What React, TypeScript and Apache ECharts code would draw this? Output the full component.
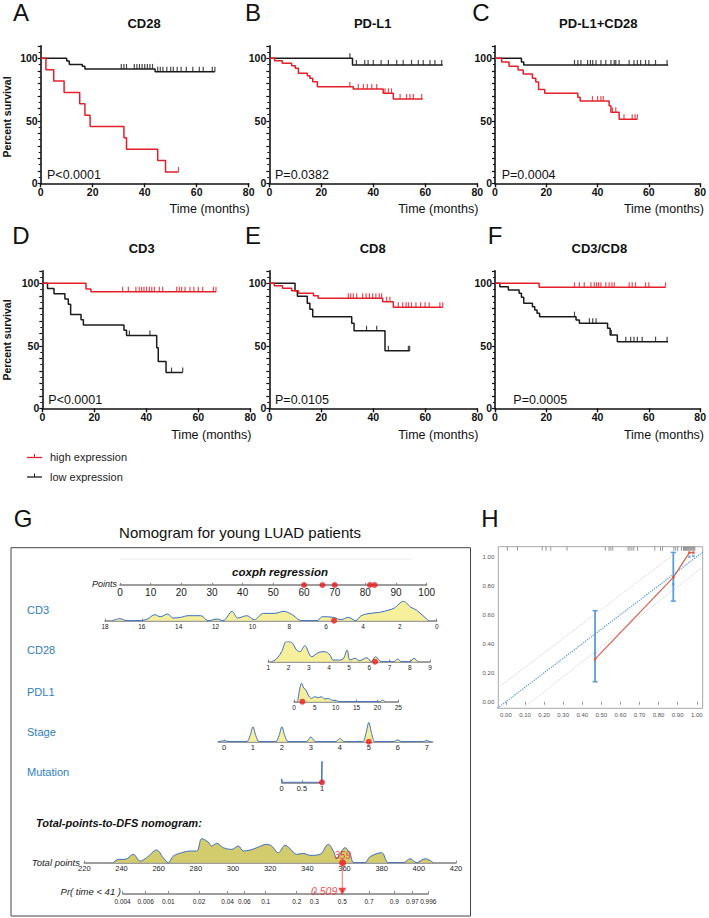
import React, { useEffect, useRef } from 'react';
import * as echarts from 'echarts';

const FONT = '"Liberation Sans", Arial, Helvetica, sans-serif';
const RED = '#e3202a';
const BLACK = '#1b1b1b';
const NOMO_BLUE = '#2f7ec1';
const DENS_LINE = '#3c6fc4';

// ---------------- Kaplan-Meier data: [time (months), percent survival after the step] ----------------
const survivalLabels = [0, 50, 100];

const cd28High = [[0, 100], [2, 90.9], [5, 81.8], [9, 72.7], [15, 63.6], [17, 54.5], [19, 45.5], [32, 36.4], [33, 27.3], [45, 18.2], [48, 9.1], [53, 9.1]];
const cd28HighCensor = [53];
const cd28Low = [[0, 100], [10, 97.9], [11, 95], [16, 93.6], [17, 91.5], [44, 89.3], [67, 89.3]];
const cd28LowCensor = [31, 32, 33, 36, 37, 38, 39, 40, 41, 42, 43, 45, 46, 47, 48.5, 50, 51, 52.5, 54, 56, 58.5, 61, 62.5, 66, 67];

const pdl1High = [[0, 100], [2, 98.1], [5, 96], [8.6, 94], [10, 92], [11.2, 88], [14.6, 86], [15.6, 84], [16.7, 81.3], [18.5, 77.3], [32.3, 75.5], [43.8, 72], [47.7, 67.5], [59, 67.5]];
const pdl1HighCensor = [31, 34.2, 36.2, 37.7, 39.4, 41.3, 44.5, 45.8, 47, 50.3, 52.8, 54.1, 55.4, 58.6];
const pdl1Low = [[0, 100], [32, 94.7], [66.7, 94.7]];
const pdl1LowCensor = [31, 33.5, 36.7, 38, 40, 43, 45.8, 49, 51.5, 54.7, 57.3, 59.2, 61.8, 63.7, 66.3];

const comboHigh = [[0, 100], [2.6, 97], [5.5, 93.6], [9, 90.7], [11, 87.5], [14.6, 84], [15.9, 81], [17, 75], [19.4, 72], [32.3, 68.8], [33.2, 65.9], [44.5, 62.1], [45.2, 56.8], [48.4, 51.2], [55.5, 51.2]];
const comboHighCensor = [38, 40, 41.3, 42.2, 45.8, 47.1, 50.3, 53.5, 54.6, 55.5];
const comboLow = [[0, 100], [10.3, 97], [11.2, 94.7], [67.5, 94.7]];
const comboLowCensor = [31, 32.3, 33.5, 36.1, 37.2, 38.1, 39.4, 41.3, 43.2, 45.2, 46.5, 47.1, 48.4, 52.3, 54.2, 55.5, 56.8, 58.7, 60, 62.6, 67.1];

const cd3High = [[0, 100], [16.8, 95.5], [18.7, 93.3], [66.8, 93.3]];
const cd3HighCensor = [30.9, 33.1, 36, 37.3, 38.2, 39.1, 40.1, 41.2, 42.1, 43.1, 45, 46.3, 51.7, 52.7, 53.6, 54.9, 56.8, 58.3, 60, 61.7, 65.8, 66.8];
const cd3Low = [[0, 100], [2, 95.8], [4.5, 91.7], [8.7, 87.5], [10, 83.3], [10.9, 75], [14.9, 70.8], [15.8, 66.7], [31.4, 62.5], [32.4, 58.3], [44, 48.5], [44.6, 37.5], [47.6, 28.6], [54, 28.6]];
const cd3LowCensor = [33.5, 41.4, 49.7, 54];

const cd8High = [[0, 100], [1.9, 98], [5.1, 96], [8.6, 94], [11.2, 92], [17, 90], [18.8, 88], [43.6, 85.3], [47.7, 80.8], [66.7, 80.8]];
const cd8HighCensor = [30.4, 31.3, 32.3, 33.6, 35.9, 37.2, 38.5, 39.7, 41, 42.3, 43.2, 45.1, 46.4, 49.6, 51.3, 52.6, 53.5, 54.7, 56.4, 58.2, 59.9, 61.5, 65.6, 66.7];
const cd8Low = [[0, 100], [9.9, 94.1], [10.8, 89.6], [14.6, 84], [15.6, 79.2], [16.7, 73.3], [31.7, 68], [32.6, 62], [44.5, 46.1], [54, 46.1]];
const cd8LowCensor = [37.4, 41.3, 45.8, 53.5, 54];

const ratioHigh = [[0, 100], [17.2, 96.8], [66.5, 96.8]];
const ratioHighCensor = [31, 32.9, 34.8, 37.4, 38.7, 39.6, 40.4, 41.3, 43.2, 44.5, 45.6, 46.5, 52.3, 53.5, 54.8, 58.7, 60, 66.5];
const ratioLow = [[0, 100], [1.9, 97.3], [5.2, 94.7], [9.4, 92], [10.3, 88.8], [11.2, 84], [14.6, 81.3], [15.5, 78.7], [16.4, 76], [17.4, 73.3], [31.6, 70.7], [32.9, 68], [43.9, 64], [44.9, 58.7], [47.7, 53.3], [67.5, 53.3]];
const ratioLowCensor = [31, 36.8, 38.1, 39.4, 45.4, 51, 52.9, 54.2, 55.5, 57.4, 62.6, 67.1];

const kmPanels = [
  { letter: 'A', title: 'CD28', p: 'P<0.0001', high: cd28High, highCens: cd28HighCensor, low: cd28Low, lowCens: cd28LowCensor },
  { letter: 'B', title: 'PD-L1', p: 'P=0.0382', high: pdl1High, highCens: pdl1HighCensor, low: pdl1Low, lowCens: pdl1LowCensor },
  { letter: 'C', title: 'PD-L1+CD28', p: 'P=0.0004', high: comboHigh, highCens: comboHighCensor, low: comboLow, lowCens: comboLowCensor },
  { letter: 'D', title: 'CD3', p: 'P<0.0001', high: cd3High, highCens: cd3HighCensor, low: cd3Low, lowCens: cd3LowCensor },
  { letter: 'E', title: 'CD8', p: 'P=0.0105', high: cd8High, highCens: cd8HighCensor, low: cd8Low, lowCens: cd8LowCensor },
  { letter: 'F', title: 'CD3/CD8', p: 'P=0.0005', high: ratioHigh, highCens: ratioHighCensor, low: ratioLow, lowCens: ratioLowCensor },
];

// ---------------- Nomogram data ----------------
const pointsDots = [60, 66, 70, 81.5, 83];
const cd3Density = [[17.6, 0], [17.2, 6], [16.8, 0], [16.1, 0], [15.7, 5], [15.3, 18], [15.0, 12], [14.6, 20], [14.3, 8], [13.9, 10], [13.5, 15], [12.8, 15], [12.4, 0], [11.9, 5], [11.6, 0], [11.1, 28], [10.8, 8], [10.3, 15], [9.9, 3], [9.4, 22], [8.8, 22], [8.3, 28], [7.9, 20], [7.3, 0], [6.5, 0], [6.2, 12], [5.6, 10], [5.2, 3], [4.8, 10], [4.4, 0], [4.1, 15], [3.6, 22], [3.1, 25], [2.6, 32], [2.3, 38], [1.8, 58], [1.4, 40], [1.1, 32], [0.5, 3], [0.4, 0]];
const cd3Point = 5.57;
const cd28Density = [[1.16, 0], [1.4, 8], [1.66, 30], [1.9, 60], [2.15, 58], [2.4, 35], [2.57, 30], [2.8, 48], [3.15, 15], [3.5, 28], [3.8, 30], [4.05, 20], [4.2, 5], [4.47, 5], [4.7, 8], [4.9, 35], [5.04, 5], [5.3, 10], [5.5, 3], [5.87, 12], [6.1, 0], [6.3, 15], [6.6, 0], [7.2, 0], [7.4, 8], [7.6, 0], [8.0, 0], [8.2, 10], [8.4, 0]];
const cd28Point = 6.28;
const pdl1Density = [[0.9, 0], [1.4, 40], [1.8, 55], [2.4, 40], [2.9, 35], [3.4, 20], [4.2, 10], [5, 15], [5.8, 12], [6.6, 15], [7.4, 8], [8.2, 10], [9, 5], [10.2, 3], [11, 0], [20.6, 0], [21.2, 5], [21.8, 0]];
const pdl1Point = 2;
const stageDensity = [[-0.2, 0.5], [-0.1, 1.5], [0, 3], [0.1, 1.5], [0.2, 0.5], [0.3, 0], [0.78, 0], [0.9, 18], [1, 45], [1.1, 18], [1.22, 0], [1.78, 0], [1.9, 18], [2, 45], [2.1, 18], [2.22, 0], [2.84, 0], [2.93, 7], [3, 15], [3.07, 7], [3.16, 0], [3.84, 0], [3.93, 5], [4, 10], [4.07, 5], [4.16, 0], [4.78, 0], [4.9, 24], [5, 58], [5.1, 24], [5.22, 0], [5.85, 0], [5.93, 2.5], [6, 5], [6.07, 2.5], [6.15, 0], [6.85, 0], [6.93, 1.5], [7, 3], [7.07, 1.5], [7.15, 0]];
const stagePoint = 5;
const stageTicks = [0, 1, 2, 3, 4, 5, 6, 7];
const mutationDensity = [[0, 0], [0, 10], [0.015, 0], [0.985, 0], [1, 63], [1, 0]];
const mutationPoint = 1;
const mutationTicks = [0, 0.5, 1];
const totalDensity = [[235.6, 0], [238.3, 10], [241.9, 10], [246.4, 25], [250, 5], [253.5, 15], [258.9, 38], [262.5, 15], [265.2, 0], [267.9, 20], [272.4, 30], [276.9, 35], [280.5, 35], [283.2, 72], [286.7, 62], [288.5, 50], [291.2, 58], [294.8, 45], [299.3, 40], [302.9, 50], [305.6, 35], [309.2, 38], [312.8, 45], [318.1, 55], [320.8, 50], [324.4, 30], [328, 52], [330.7, 42], [334.3, 25], [337.9, 28], [341.5, 22], [346.8, 25], [351.3, 55], [354, 35], [355.8, 15], [360.3, 45], [363, 25], [365.1, 0], [371, 0], [373.7, 18], [380, 30], [383.6, 0], [391.7, 0], [395.3, 12], [398.9, 0], [403.4, 12], [407.8, 0]];
const totalPoint = 359;
const prLabels = ['0.004', '0.006', '0.01', '0.02', '0.04', '0.06', '0.1', '0.2', '0.3', '0.5', '0.7', '0.9', '0.97', '0.996'];
const prPositions = [240.6, 253.0, 265.2, 281.7, 297.1, 306.1, 317.6, 334.3, 343.8, 358.8, 373.2, 386.8, 396.5, 405.1];
const prResult = 0.509;

// ---------------- Calibration data ----------------
const calibTicks = [0, 0.1, 0.2, 0.3, 0.4, 0.5, 0.6, 0.7, 0.8, 0.9, 1.0];
const calibYTicks = [0, 0.2, 0.4, 0.6, 0.8, 1.0];
const calibIdeal = [[-0.045, -0.045], [1.031, 1.031]];
const calibUpper = [[-0.04, 0.097], [0.932, 1.069]];
const calibLower = [[0.09, -0.045], [1.031, 0.93]];
const calibRed = [[0.467, 0.294], [0.877, 0.858], [0.961, 1.028], [0.982, 1.028]];
const calibBars = [[0.467, 0.138, 0.628], [0.877, 0.694, 1.03]];
const calibBlue = [[0.467, 0.334], [0.877, 0.81], [0.961, 1.0], [0.982, 1.005]];
const calibRug = [0.007, 0.06, 0.19, 0.21, 0.235, 0.32, 0.52, 0.54, 0.55, 0.56, 0.64, 0.65, 0.66, 0.67, 0.69, 0.78, 0.81, 0.82, 0.88, 0.89, 0.9, 0.92, 0.93, 0.935, 0.94, 0.945, 0.95, 0.955, 0.96, 0.965, 0.97, 0.975, 0.98, 0.985, 0.99];

function survAt(steps: number[][], t: number) {
  let s = steps[0][1];
  for (const p of steps) if (p[0] <= t) s = p[1];
  return s;
}

function T(x: number, y: number, text: string, size: number, o: any = {}) {
  return {
    type: 'text', x, y, silent: true, rotation: o.rotation || 0,
    style: {
      text, fill: o.color || '#111', fontSize: size, fontFamily: FONT,
      fontWeight: o.weight || 'normal', fontStyle: o.italic ? 'italic' : 'normal',
      textAlign: o.align || 'left', textVerticalAlign: 'middle', align: o.align || 'left', verticalAlign: 'middle',
    },
  };
}

function buildOption() {
  const grids: any[] = [];
  const xAxes: any[] = [];
  const yAxes: any[] = [];
  const series: any[] = [];
  const graphics: any[] = [];

  // ---- KM panels ----
  const kmLayout = [
    { left: 40.7, top: 45.8, lx: 21, ly: 12, tx: 144, ty: 23, px: 47, py: 175, ny: 209 },
    { left: 269.3, top: 45.8, lx: 253, ly: 12, tx: 372.7, ty: 23, px: 275, py: 175, ny: 209 },
    { left: 495, top: 45.8, lx: 481, ly: 12, tx: 598.3, ty: 23, px: 501.7, py: 175, ny: 209 },
    { left: 42.3, top: 270.8, lx: 21, ly: 235, tx: 141.7, ty: 248, px: 48.3, py: 400, ny: 435 },
    { left: 269.3, top: 270.8, lx: 253, ly: 235, tx: 372.7, ty: 248, px: 275, py: 400, ny: 435 },
    { left: 495, top: 270.8, lx: 495, ly: 235, tx: 599.3, ty: 248, px: 513.3, py: 400, ny: 435 },
  ];
  const KW = 208, KH = 137.5;
  kmPanels.forEach((pn, i) => {
    const L = kmLayout[i];
    const gi = grids.length;
    grids.push({ left: L.left, top: L.top, width: KW, height: KH });
    xAxes.push({
      gridIndex: gi, type: 'value', min: 0, max: 80, interval: 20,
      axisLine: { show: true, onZero: false, lineStyle: { color: '#111', width: 1.6 } },
      axisTick: { show: true, length: 4, lineStyle: { color: '#111', width: 1.4 } },
      axisLabel: { fontSize: 10.5, fontWeight: 'bold', color: '#111', margin: 3, fontFamily: FONT },
      splitLine: { show: false },
    });
    yAxes.push({
      gridIndex: gi, type: 'value', min: 0, max: 110, interval: 10,
      axisLine: { show: true, onZero: false, lineStyle: { color: '#111', width: 1.6 } },
      axisTick: { show: true, length: 3, lineStyle: { color: '#111', width: 1.2 } },
      minorTick: { show: true, splitNumber: 2, length: 2, lineStyle: { color: '#111', width: 1 } },
      axisLabel: {
        fontSize: 10.5, fontWeight: 'bold', color: '#111', margin: 3, fontFamily: FONT,
        formatter: (v: number) => (survivalLabels.includes(v) ? String(v) : ''),
      },
      splitLine: { show: false },
    });
    const groups = [
      { steps: pn.low, cens: pn.lowCens, color: BLACK },
      { steps: pn.high, cens: pn.highCens, color: RED },
    ];
    groups.forEach((g) => {
      series.push({
        type: 'line', xAxisIndex: gi, yAxisIndex: gi, data: g.steps, step: 'end', symbol: 'none',
        lineStyle: { color: g.color, width: 1.5 }, z: 3,
      });
      series.push({
        type: 'scatter', xAxisIndex: gi, yAxisIndex: gi,
        data: g.cens.map((t) => [t, survAt(g.steps, t)]),
        symbol: 'rect', symbolSize: [1.2, 5], symbolOffset: [0, -2.5], itemStyle: { color: g.color }, z: 4,
      });
    });
    graphics.push(T(L.lx, L.ly, pn.letter, 24, { align: 'center' }));
    graphics.push(T(L.tx, L.ty, pn.title, 13, { align: 'center', weight: 'bold' }));
    graphics.push(T(L.px, L.py, pn.p, 12.5));
    graphics.push(T(L.left + KW + 1, L.ny, 'Time (months)', 12.5, { align: 'right' }));
  });
  graphics.push(T(6.5, 117, 'Percent survival', 10.5, { align: 'center', weight: 'bold', rotation: Math.PI / 2 }));
  graphics.push(T(6.5, 340, 'Percent survival', 10.5, { align: 'center', weight: 'bold', rotation: Math.PI / 2 }));

  // legend
  graphics.push({ type: 'line', silent: true, shape: { x1: 27, y1: 457.5, x2: 42, y2: 457.5 }, style: { stroke: RED, lineWidth: 1.3 } });
  graphics.push({ type: 'line', silent: true, shape: { x1: 34.5, y1: 454, x2: 34.5, y2: 457.5 }, style: { stroke: RED, lineWidth: 1 } });
  graphics.push({ type: 'line', silent: true, shape: { x1: 27, y1: 477, x2: 42, y2: 477 }, style: { stroke: BLACK, lineWidth: 1.3 } });
  graphics.push({ type: 'line', silent: true, shape: { x1: 34.5, y1: 473.5, x2: 34.5, y2: 477 }, style: { stroke: BLACK, lineWidth: 1 } });
  graphics.push(T(50, 457, 'high expression', 11, { color: '#222' }));
  graphics.push(T(50, 477, 'low expression', 11, { color: '#222' }));

  // ---- Nomogram ----
  graphics.push(T(23, 518, 'G', 24, { align: 'center' }));
  graphics.push(T(240, 532, 'Nomogram for young LUAD patients', 15, { align: 'center', color: '#111' }));
  graphics.push({ type: 'rect', silent: true, shape: { x: 11, y: 547.7, width: 459.5, height: 368.3 }, style: { fill: 'none', stroke: '#444', lineWidth: 1 } });
  graphics.push({ type: 'line', silent: true, shape: { x1: 120, y1: 559, x2: 412, y2: 559 }, style: { stroke: '#ececec', lineWidth: 1 } });
  graphics.push(T(280, 572, 'coxph regression', 11.5, { align: 'center', weight: 'bold', italic: true }));
  graphics.push(T(117, 583.5, 'Points', 9, { align: 'right', italic: true, color: '#222' }));
  graphics.push(T(27, 610, 'CD3', 11, { color: NOMO_BLUE }));
  graphics.push(T(27, 650, 'CD28', 11, { color: NOMO_BLUE }));
  graphics.push(T(27, 691.7, 'PDL1', 11, { color: NOMO_BLUE }));
  graphics.push(T(27, 731.7, 'Stage', 11, { color: NOMO_BLUE }));
  graphics.push(T(27, 771.7, 'Mutation', 11, { color: NOMO_BLUE }));
  graphics.push(T(36, 822.7, 'Total-points-to-DFS nomogram:', 11, { weight: 'bold', italic: true }));
  graphics.push(T(80, 862, 'Total points', 9.5, { align: 'right', italic: true, color: '#222' }));
  graphics.push(T(121, 891.5, 'Pr( time < 41 )', 9.5, { align: 'right', italic: true, color: '#222' }));

  const nomoAxisLine = { show: true, onZero: false, lineStyle: { color: '#7d7d7d', width: 1.5 } };
  const nomoTick = { show: true, length: 2, inside: true, lineStyle: { color: '#7d7d7d', width: 1 } };

  function nomoRow(cfg: any) {
    const gi = grids.length;
    grids.push({ left: cfg.left, top: cfg.base - cfg.h, width: cfg.width, height: cfg.h });
    const xa: any = {
      gridIndex: gi, type: 'value', min: cfg.min, max: cfg.max, inverse: !!cfg.inverse,
      axisLine: nomoAxisLine, axisTick: { ...nomoTick },
      axisLabel: { fontSize: cfg.fs, color: '#222', margin: cfg.margin || 2, fontFamily: FONT },
      splitLine: { show: false },
    };
    if (cfg.interval) xa.interval = cfg.interval;
    if (cfg.custom) {
      xa.axisLabel.customValues = cfg.custom;
      xa.axisTick.customValues = cfg.custom;
    }
    if (cfg.formatter) xa.axisLabel.formatter = cfg.formatter;
    xAxes.push(xa);
    yAxes.push({ gridIndex: gi, type: 'value', min: 0, max: cfg.ymax, show: false });
    if (cfg.density) {
      series.push({
        type: 'line', xAxisIndex: gi, yAxisIndex: gi, data: cfg.density, symbol: 'none',
        smooth: cfg.smooth === undefined ? 0.35 : cfg.smooth,
        lineStyle: { color: DENS_LINE, width: 1 },
        areaStyle: { color: cfg.fill || '#f6ef9c', opacity: 1, origin: 'start' }, z: 2,
      });
    }
    return gi;
  }
  function dot(gi: number, v: number, extra: any = {}) {
    series.push({
      type: 'scatter', xAxisIndex: gi, yAxisIndex: gi, data: [[v, 0]], symbol: 'circle', symbolSize: 6,
      itemStyle: { color: '#ee1c1c' }, z: 6, ...extra,
    });
  }

  const gPts = nomoRow({ left: 120, width: 306.7, base: 585, h: 10, min: 0, max: 100, interval: 10, fs: 10, ymax: 1 });
  series.push({
    type: 'scatter', xAxisIndex: gPts, yAxisIndex: gPts, data: pointsDots.map((v) => [v, 0]),
    symbol: 'circle', symbolSize: 6, itemStyle: { color: '#ee1c1c' }, z: 6,
  });
  const gCd3 = nomoRow({ left: 105, width: 331.7, base: 620.7, h: 20, min: 0, max: 18, interval: 2, inverse: true, fs: 6.5, ymax: 60, density: cd3Density });
  dot(gCd3, cd3Point);
  const gCd28 = nomoRow({ left: 268.3, width: 161.7, base: 661.7, h: 20, min: 1, max: 9, interval: 1, fs: 6.5, ymax: 60, density: cd28Density });
  dot(gCd28, cd28Point);
  const gPd = nomoRow({ left: 294, width: 104.3, base: 701.7, h: 20, min: 0, max: 25, interval: 5, fs: 6.5, ymax: 60, density: pdl1Density });
  dot(gPd, pdl1Point);
  const gSt = nomoRow({ left: 218.2, width: 214.3, base: 741.7, h: 20, min: -0.2, max: 7.2, custom: stageTicks, fs: 7.5, ymax: 60, density: stageDensity, smooth: 0.3 });
  dot(gSt, stagePoint);
  const gMu = nomoRow({ left: 281.7, width: 40.3, base: 782.3, h: 21, min: 0, max: 1, custom: mutationTicks, fs: 7.5, ymax: 63, density: mutationDensity, smooth: false });
  dot(gMu, mutationPoint);
  const gTot = nomoRow({ left: 84.3, width: 371.7, base: 862.7, h: 25, min: 220, max: 420, interval: 20, fs: 7.5, ymax: 75, density: totalDensity, fill: '#d3cc6c' });
  dot(gTot, totalPoint, {
    symbolSize: 7,
    label: { show: true, formatter: String(totalPoint), position: 'top', distance: -1, color: '#ee2222', fontSize: 10, fontStyle: 'italic', fontFamily: FONT },
  });
  const gPr = nomoRow({
    left: 122.6, width: 305.7, base: 893.3, h: 30.6, min: 240.6, max: 405.1, custom: prPositions, fs: 6.5, ymax: 1, margin: 5,
    formatter: (v: number) => {
      const i = prPositions.findIndex((p) => Math.abs(p - v) < 1e-6);
      return i >= 0 ? prLabels[i] : '';
    },
  });
  series.push({
    type: 'line', xAxisIndex: gPr, yAxisIndex: gPr, data: [[totalPoint - 0.2, 0], [totalPoint - 0.2, 1]], symbol: 'none',
    lineStyle: { color: '#f07070', width: 1 }, z: 5,
  });
  series.push({
    type: 'scatter', xAxisIndex: gPr, yAxisIndex: gPr, data: [[totalPoint - 0.2, 0]], symbol: 'triangle', symbolRotate: 180,
    symbolSize: [8, 7], symbolOffset: [0, -2], itemStyle: { color: '#ee1c1c' }, z: 6,
    label: { show: true, formatter: String(prResult), position: 'left', distance: 1, color: '#ee2222', fontSize: 10.5, fontStyle: 'italic', fontFamily: FONT },
  });

  // ---- Calibration (H) ----
  graphics.push(T(490, 518, 'H', 24, { align: 'center' }));
  const gC = grids.length;
  grids.push({ left: 498.3, top: 546.7, width: 204.4, height: 161.6, show: true, borderColor: '#a8a8a8', borderWidth: 1 });
  xAxes.push({
    gridIndex: gC, type: 'value', min: -0.04, max: 1.031,
    axisLine: { show: false },
    axisTick: { show: true, length: 3, customValues: calibTicks, lineStyle: { color: '#999' } },
    axisLabel: { customValues: calibTicks, fontSize: 6, color: '#555', margin: 4, formatter: (v: number) => v.toFixed(2), fontFamily: FONT },
    splitLine: { show: false },
  });
  yAxes.push({
    gridIndex: gC, type: 'value', min: -0.045, max: 1.069,
    axisLine: { show: false },
    axisTick: { show: false },
    axisLabel: { customValues: calibYTicks, fontSize: 6, color: '#555', margin: 4, formatter: (v: number) => v.toFixed(2), fontFamily: FONT },
    splitLine: { show: false },
  });
  const dl = (data: number[][], color: string, width = 1) => ({
    type: 'line', xAxisIndex: gC, yAxisIndex: gC, data, symbol: 'none',
    lineStyle: { color, width, type: 'dotted' }, z: 2,
  });
  series.push(dl(calibUpper, '#cfcfcf'));
  series.push(dl(calibLower, '#cfcfcf'));
  series.push(dl(calibIdeal, '#4d95dc', 1.2));
  calibBars.forEach((b) => {
    series.push({
      type: 'line', xAxisIndex: gC, yAxisIndex: gC, data: [[b[0], b[1]], [b[0], b[2]]], symbol: 'rect', symbolSize: [5, 1.5],
      showSymbol: true, lineStyle: { color: '#5a9ddb', width: 1.8 }, itemStyle: { color: '#5a9ddb' }, z: 3,
    });
  });
  series.push({
    type: 'line', xAxisIndex: gC, yAxisIndex: gC, data: calibRed, symbol: 'rect', symbolSize: 2.5, showSymbol: true,
    lineStyle: { color: '#d9604c', width: 1.2 }, itemStyle: { color: '#d9604c' }, z: 4,
  });
  series.push({
    type: 'scatter', xAxisIndex: gC, yAxisIndex: gC, data: calibBlue, symbol: 'rect', symbolSize: 2.5,
    itemStyle: { color: '#5a9ddb' }, z: 5,
  });
  series.push({
    type: 'scatter', xAxisIndex: gC, yAxisIndex: gC, data: calibRug.map((v) => [v, 1.069]), symbol: 'rect',
    symbolSize: [0.8, 4], symbolOffset: [0, 2], itemStyle: { color: '#555', opacity: 0.75 }, z: 5, clip: false,
  });

  return {
    animation: false,
    backgroundColor: '#ffffff',
    textStyle: { fontFamily: FONT },
    grid: grids,
    xAxis: xAxes,
    yAxis: yAxes,
    series,
    graphic: { elements: graphics },
  };
}

export default function App() {
  const ref = useRef<HTMLDivElement>(null);
  useEffect(() => {
    if (!ref.current) return;
    const chart = echarts.init(ref.current, undefined, { renderer: 'svg' });
    chart.setOption(buildOption() as any);
    return () => chart.dispose();
  }, []);
  return <div ref={ref} style={{ position: 'absolute', left: 0, top: 0, width: 709, height: 918 }} />;
}
